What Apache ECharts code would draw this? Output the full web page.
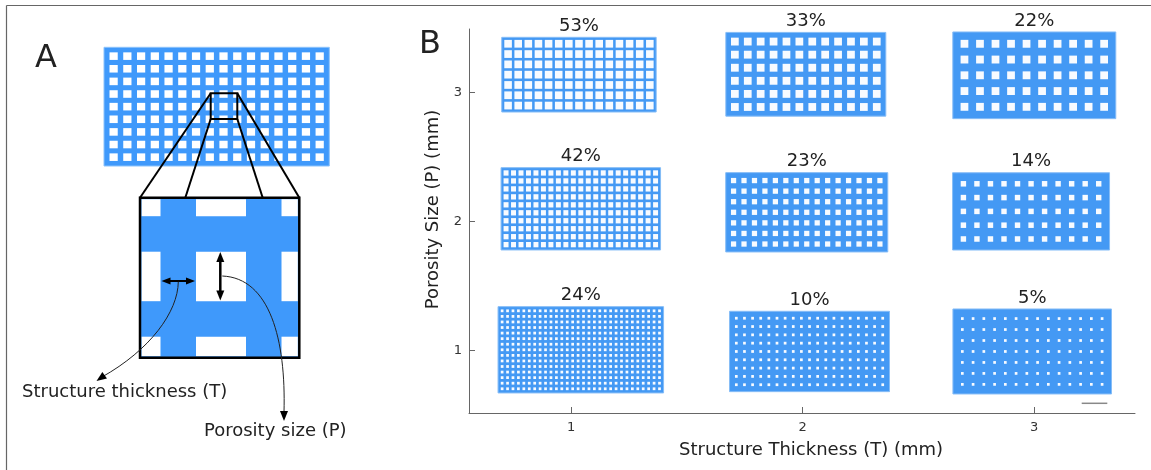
<!DOCTYPE html>
<html>
<head>
<meta charset="utf-8">
<script src="https://cdn.jsdelivr.net/npm/echarts@6/dist/echarts.min.js"></script>
<style>
  html, body { margin: 0; padding: 0; background: #fff; }
  #chart { width: 1151px; height: 470px; }
</style>
</head>
<body>
<div id="chart"></div>
<script>
// nominal design of each sample (mm) and its measured porosity
const thickness = [1, 1, 1, 2, 2, 2, 3, 3, 3];
const poreSize = [3, 2, 1, 3, 2, 1, 3, 2, 1];
const porosity = ['53%', '42%', '24%', '33%', '23%', '10%', '22%', '14%', '5%'];
// holes across / down in each plate
const holeCols = [15, 21, 30, 12, 15, 19, 10, 11, 14];
const holeRows = [7, 10, 15, 6, 7, 9, 5, 5, 7];
// where each plate sits on the axes and how much of them it spans
const plateT = [1.034, 1.042, 1.042, 2.014, 2.018, 2.03, 3.001, 2.987, 2.992];
const plateP = [3.14, 2.10, 1.007, 3.143, 2.073, 0.994, 3.135, 2.08, 0.994];
const plateSpanT = [0.667, 0.689, 0.715, 0.691, 0.70, 0.691, 0.704, 0.678, 0.685];
const plateSpanP = [0.579, 0.638, 0.669, 0.649, 0.615, 0.623, 0.672, 0.599, 0.659];
const tickValues = [1, 2, 3];

const FONT = 'DejaVu Sans';
const PLATE_BLUE = '#4499f4';
const SKETCH_BLUE = '#3f99fb';
const HOLE = '#f8fbff';
const INK = '#222';

const chart = echarts.init(document.getElementById('chart'));

// white square holes laid out on a regular lattice inside a plate
function holes(x0, y0, w, h, cols, rows, strut, fill) {
  const px = w / (cols + strut);
  const py = h / (rows + strut);
  const out = [];
  for (let r = 0; r < rows; r++) {
    for (let c = 0; c < cols; c++) {
      out.push({
        type: 'rect',
        shape: {
          x: x0 + px * (c + strut),
          y: y0 + py * (r + strut),
          width: px * (1 - strut),
          height: py * (1 - strut),
        },
        style: { fill: fill },
      });
    }
  }
  return out;
}

function renderPlate(params, api) {
  const i = params.dataIndex;
  const c = api.coord([api.value(0), api.value(1)]);
  const s = api.size([api.value(2), api.value(3)]);
  const x0 = c[0] - s[0] / 2;
  const y0 = c[1] - s[1] / 2;
  const strut = thickness[i] / (thickness[i] + poreSize[i]);
  return {
    type: 'group',
    children: [
      {
        type: 'rect',
        shape: { x: x0, y: y0, width: s[0], height: s[1] },
        style: { fill: PLATE_BLUE, stroke: '#86bdf7', lineWidth: 1 },
      },
      ...holes(x0, y0, s[0], s[1], holeCols[i], holeRows[i], strut, HOLE),
      {
        type: 'text',
        style: {
          text: porosity[i],
          x: c[0],
          y: y0 - 11,
          align: 'center',
          verticalAlign: 'middle',
          fontFamily: FONT,
          fontSize: 18,
          fill: INK,
        },
      },
    ],
  };
}

function arrowHead(tip, from, len, half) {
  const dx = tip[0] - from[0];
  const dy = tip[1] - from[1];
  const d = Math.sqrt(dx * dx + dy * dy);
  const ux = dx / d, uy = dy / d;
  const bx = tip[0] - ux * len, by = tip[1] - uy * len;
  return {
    type: 'polygon',
    shape: { points: [tip, [bx - uy * half, by + ux * half], [bx + uy * half, by - ux * half]] },
    style: { fill: '#000' },
  };
}

function text(str, x, y, size, align) {
  return {
    type: 'text',
    style: { text: str, x: x, y: y, align: align || 'left', verticalAlign: 'middle', fontFamily: FONT, fontSize: size, fill: INK },
  };
}

// panel A: lattice, zoom window and enlarged unit cell
const sketch = [];
sketch.push({ type: 'rect', shape: { x: 104, y: 47.3, width: 225.3, height: 118.7 }, style: { fill: SKETCH_BLUE, stroke: '#8cc2fb', lineWidth: 1 } });
sketch.push(...holes(104, 47.3, 225.3, 118.7, 16, 9, 0.4, '#ffffff'));

const lineStyle = { stroke: '#000', lineWidth: 2 };
sketch.push({ type: 'line', shape: { x1: 210.7, y1: 93.3, x2: 140, y2: 197.7 }, style: lineStyle });
sketch.push({ type: 'line', shape: { x1: 237.3, y1: 93.3, x2: 299.3, y2: 197.7 }, style: lineStyle });
sketch.push({ type: 'line', shape: { x1: 210.7, y1: 119, x2: 185.3, y2: 197.7 }, style: lineStyle });
sketch.push({ type: 'line', shape: { x1: 237.3, y1: 119, x2: 262.7, y2: 197.7 }, style: lineStyle });
sketch.push({ type: 'rect', shape: { x: 210.7, y: 93.3, width: 26.6, height: 25.7 }, style: { fill: 'none', stroke: '#000', lineWidth: 2 } });

const box = { x: 140, y: 197.7, w: 159.3, h: 160 };
sketch.push({ type: 'rect', shape: { x: box.x, y: box.y, width: box.w, height: box.h }, style: { fill: SKETCH_BLUE } });
for (let i = -1; i <= 1; i++) {
  for (let j = -1; j <= 1; j++) {
    const hx0 = Math.max(box.x + 1.5, 196 + i * 85.5);
    const hx1 = Math.min(box.x + box.w - 1.5, 196 + i * 85.5 + 50);
    const hy0 = Math.max(box.y + 1.5, 251.7 + j * 85);
    const hy1 = Math.min(box.y + box.h - 1.5, 251.7 + j * 85 + 49.5);
    sketch.push({ type: 'rect', shape: { x: hx0, y: hy0, width: hx1 - hx0, height: hy1 - hy0 }, style: { fill: '#fff' } });
  }
}
sketch.push({ type: 'rect', shape: { x: box.x, y: box.y, width: box.w, height: box.h }, style: { fill: 'none', stroke: '#000', lineWidth: 2.5 } });

// T and P dimension arrows
sketch.push({ type: 'line', shape: { x1: 168, y1: 281, x2: 189, y2: 281 }, style: { stroke: '#000', lineWidth: 2 } });
sketch.push(arrowHead([161.5, 281], [170, 281], 9, 3.5));
sketch.push(arrowHead([195, 281], [186, 281], 9, 3.5));
sketch.push({ type: 'line', shape: { x1: 220.3, y1: 258, x2: 220.3, y2: 295 }, style: { stroke: '#000', lineWidth: 2.5 } });
sketch.push(arrowHead([220.3, 252], [220.3, 262], 10, 4));
sketch.push(arrowHead([220.3, 300.5], [220.3, 290], 10, 4));

// leader curves to the labels
sketch.push({ type: 'bezierCurve', shape: { x1: 178.3, y1: 281.7, cpx1: 178, cpy1: 312, cpx2: 150, cpy2: 350, x2: 102, y2: 377 }, style: { stroke: '#222', lineWidth: 1, fill: 'none' } });
sketch.push(arrowHead([96.5, 381], [105, 375], 10, 4));
sketch.push({ type: 'bezierCurve', shape: { x1: 222.3, y1: 276, cpx1: 270, cpy1: 278, cpx2: 286, cpy2: 340, x2: 284, y2: 412 }, style: { stroke: '#222', lineWidth: 1, fill: 'none' } });
sketch.push(arrowHead([284, 421], [284, 410], 10, 4));

sketch.push(text('Structure thickness (T)', 22, 392, 18));
sketch.push(text('Porosity size (P)', 204, 431, 18));
sketch.push(text('A', 35, 59, 32));
sketch.push(text('B', 419, 45, 32));

// figure frame and scale bar
sketch.push({ type: 'line', shape: { x1: 6.5, y1: 5.5, x2: 1151, y2: 5.5 }, style: { stroke: '#666', lineWidth: 1.2 } });
sketch.push({ type: 'line', shape: { x1: 6.5, y1: 5.5, x2: 6.5, y2: 470 }, style: { stroke: '#666', lineWidth: 1.2 } });
sketch.push({ type: 'line', shape: { x1: 1081.7, y1: 403.3, x2: 1107.3, y2: 403.3 }, style: { stroke: '#888', lineWidth: 1.5 } });

const plateData = thickness.map((t, i) => [
  plateT[i], plateP[i], plateSpanT[i], plateSpanP[i],
]);

const axisCommon = {
  type: 'value',
  nameLocation: 'middle',
  axisLine: { show: true, onZero: false, lineStyle: { color: '#666', width: 1 } },
  axisTick: { show: true, inside: true, length: 6, customValues: tickValues, lineStyle: { color: '#666' } },
  splitLine: { show: false },
};

const option = {
  animation: false,
  grid: { left: 469, right: 16, top: 29, bottom: 57, outerBoundsMode: 'none' },
  xAxis: Object.assign({}, axisCommon, {
    min: 0.559,
    max: 3.436,
    name: 'Structure Thickness (T) (mm)',
    nameGap: 28,
    nameTextStyle: { fontFamily: FONT, fontSize: 18, color: INK, padding: [0, 0, 0, 18] },
    axisLabel: { customValues: tickValues, fontFamily: FONT, fontSize: 13, color: '#333', margin: 8 },
  }),
  yAxis: Object.assign({}, axisCommon, {
    min: 0.517,
    max: 3.494,
    name: 'Porosity Size (P) (mm)',
    nameGap: 27,
    nameTextStyle: { fontFamily: FONT, fontSize: 18, color: INK, padding: [0, 0, 0, 23] },
    axisLabel: { customValues: tickValues, fontFamily: FONT, fontSize: 13, color: '#333', margin: 7 },
  }),
  graphic: { elements: sketch },
  series: [
    {
      type: 'custom',
      renderItem: renderPlate,
      data: plateData,
      encode: { x: 0, y: 1 },
      silent: true,
      clip: false,
    },
  ],
};

chart.setOption(option);
</script>
</body>
</html>
